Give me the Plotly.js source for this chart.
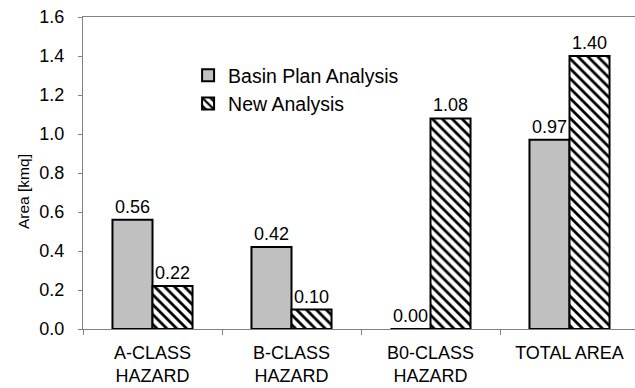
<!DOCTYPE html>
<html>
<head>
<meta charset="utf-8">
<script src="https://cdn.plot.ly/plotly-3.0.1.min.js"></script>
<style>
html,body{margin:0;padding:0;overflow:hidden;background:#fff;}
#chart{width:640px;height:388px;}
</style>
</head>
<body>
<div id="chart"></div>
<script>
var categories = ["A-CLASS<br>HAZARD", "B-CLASS<br>HAZARD", "B0-CLASS<br>HAZARD", "TOTAL AREA"];
var basinPlan = [0.56, 0.42, 0.00, 0.97];
var newAnalysis = [0.22, 0.10, 1.08, 1.40];
var seriesNames = ["Basin Plan Analysis", "New Analysis"];
var yTicks = [0, 0.2, 0.4, 0.6, 0.8, 1.0, 1.2, 1.4, 1.6];

var FONT = "Liberation Sans";

var traces = [
  {
    type: "bar",
    name: seriesNames[0],
    x: categories,
    y: basinPlan,
    marker: {color: "#c0c0c0", line: {color: "#000", width: 2}},
    texttemplate: "%{y:.2f}",
    textposition: "outside",
    textfont: {family: FONT, size: 18, color: "#000"},
    cliponaxis: false
  },
  {
    type: "bar",
    name: seriesNames[1],
    x: categories,
    y: newAnalysis,
    marker: {
      color: "#fff",
      line: {color: "#000", width: 2},
      pattern: {shape: "\\", fgcolor: "#000", bgcolor: "#fff", size: 7, solidity: 0.4}
    },
    texttemplate: "%{y:.2f}",
    textposition: "outside",
    textfont: {family: FONT, size: 18, color: "#000"},
    cliponaxis: false
  }
];

var layout = {
  width: 640,
  height: 388,
  margin: {l: 83, r: 1, t: 17, b: 59},
  paper_bgcolor: "#fff",
  plot_bgcolor: "#fff",
  font: {family: FONT, size: 18, color: "#000"},
  barmode: "group",
  bargap: 0.424,
  bargroupgap: 0,
  showlegend: true,
  legend: {
    x: 0.189, y: 0.875, xanchor: "left", yanchor: "top",
    bgcolor: "rgba(0,0,0,0)",
    font: {family: FONT, size: 19.5, color: "#000"},
    traceorder: "normal"
  },
  xaxis: {
    type: "category",
    range: [-0.5, 3.5],
    showline: true, linecolor: "#808080", linewidth: 1, mirror: true,
    ticks: "outside", tickson: "boundaries", ticklen: 5, tickcolor: "#808080",
    ticklabelstandoff: 7,
    tickfont: {family: FONT, size: 18, color: "#000"},
    showgrid: false, zeroline: false
  },
  yaxis: {
    range: [0, 1.6],
    tickvals: yTicks,
    tickformat: ".1f",
    showline: true, linecolor: "#808080", linewidth: 1, mirror: true,
    ticks: "outside", ticklen: 4, tickcolor: "#808080",
    ticklabelstandoff: 10,
    tickfont: {family: FONT, size: 18, color: "#000"},
    showgrid: false, zeroline: false
  },
  annotations: [
    {
      text: "Area [kmq]",
      xref: "paper", yref: "paper",
      x: (23 - 83) / 556, y: (329 - 192) / 312,
      xanchor: "center", yanchor: "middle",
      textangle: -90, showarrow: false,
      font: {family: FONT, size: 15.5, color: "#000"}
    }
  ]
};

Plotly.newPlot("chart", traces, layout, {staticPlot: true, displayModeBar: false});
</script>
</body>
</html>
